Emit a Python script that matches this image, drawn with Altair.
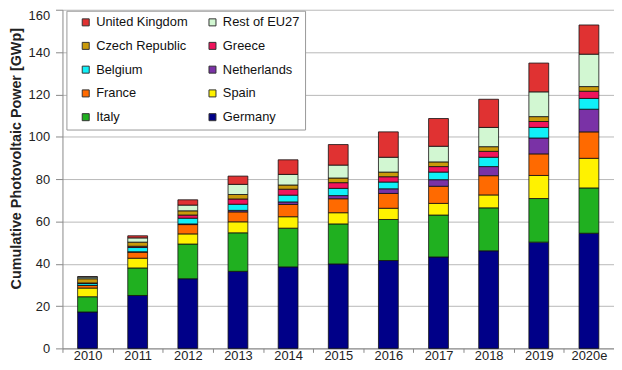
import altair as alt
import pandas as pd

years = ["2010", "2011", "2012", "2013", "2014", "2015", "2016", "2017", "2018", "2019", "2020e"]

germany = [17.2, 25.0, 32.9, 36.4, 38.5, 39.9, 41.5, 43.2, 46.1, 50.2, 54.4]
italy = [7.2, 13.0, 16.4, 18.2, 18.3, 18.9, 19.4, 19.8, 20.3, 20.6, 21.4]
spain = [4.1, 4.6, 4.8, 5.2, 5.4, 5.3, 5.3, 5.5, 6.1, 10.9, 14.0]
france = [1.2, 2.9, 4.4, 4.7, 5.8, 6.6, 7.0, 8.1, 9.1, 10.2, 12.5]
netherlands = [0.1, 0.15, 0.3, 0.7, 1.2, 1.5, 2.2, 3.1, 4.3, 7.5, 10.7]
belgium = [0.9, 2.0, 2.7, 2.9, 3.2, 3.4, 3.2, 3.6, 4.4, 5.0, 5.1]
greece = [0.2, 0.6, 1.5, 2.5, 2.8, 2.7, 2.5, 2.6, 2.8, 2.8, 3.4]
czech = [2.0, 1.95, 2.0, 2.1, 2.0, 2.2, 2.2, 2.2, 2.2, 2.3, 2.2]
rest_eu27 = [0.8, 2.0, 2.7, 4.8, 5.0, 6.1, 7.0, 7.4, 9.1, 11.7, 15.3]
uk = [0.2, 1.0, 2.5, 3.9, 6.9, 9.7, 12.0, 13.1, 13.3, 13.6, 13.8]

# stacking order (bottom to top)
stack_names = ["Germany", "Italy", "Spain", "France", "Netherlands", "Belgium",
               "Greece", "Czech Republic", "Rest of EU27", "United Kingdom"]
stack_values = [germany, italy, spain, france, netherlands, belgium,
                greece, czech, rest_eu27, uk]

# legend order (column-major: first column, then second column)
legend_order = ["United Kingdom", "Czech Republic", "Belgium", "France", "Italy",
                "Rest of EU27", "Greece", "Netherlands", "Spain", "Germany"]
legend_colors = ["#E03232", "#C99A0A", "#10F0F8", "#FF6A00", "#20B020",
                 "#D2F7D2", "#F0145C", "#7A32A6", "#FFF200", "#000088"]

rows = []
for i, (name, vals) in enumerate(zip(stack_names, stack_values)):
    for y, v in zip(years, vals):
        rows.append({"year": y, "country": name, "value": v, "stack": i})
df = pd.DataFrame(rows)

FONT = "Liberation Sans"
PAD = "\u2003" * 3

chart = alt.Chart(df).mark_bar(size=20, stroke="#111111", strokeWidth=0.8).encode(
    x=alt.X("year:N", sort=years,
            scale=alt.Scale(paddingInner=0, paddingOuter=0),
            axis=alt.Axis(title=None, labelAngle=0, tickBand="extent", ticks=True,
                          tickSize=4, tickColor="#888888", domainColor="#888888",
                          labelPadding=-3, labelFont=FONT, labelFontSize=13,
                          labelColor="#222222", grid=False)),
    y=alt.Y("value:Q", stack="zero",
            scale=alt.Scale(domain=[0, 160], nice=False),
            axis=alt.Axis(values=list(range(0, 161, 20)),
                          title="Cumulative Photovoltaic Power [GWp]",
                          titleFont=FONT, titleFontSize=14.5, titleFontWeight="bold",
                          titleColor="#222222", titleX=-46, titleY=150,
                          titleBaseline="middle", titleAlign="center",
                          labelFont=FONT, labelFontSize=13, labelColor="#222222",
                          labelPadding=6, tickSize=7, tickColor="#888888",
                          domainColor="#888888", gridColor="#B8B8B8",
                          labelBaseline={"condition": {"test": "datum.value >= 160", "value": "top"},
                                         "value": "middle"})),
    color=alt.Color("country:N",
                    scale=alt.Scale(domain=legend_order, range=legend_colors),
                    legend=alt.Legend(title=None, orient="none", legendX=4, legendY=1,
                                      columns=2, gridAlign="each", symbolType="square",
                                      symbolSize=50, symbolStrokeColor="#333333",
                                      symbolStrokeWidth=1, symbolOffset=8,
                                      labelFont=FONT, labelFontSize=13,
                                      labelColor="#111111", labelOffset=4,
                                      labelExpr="datum.label == 'Netherlands' ? datum.label + '" + PAD + "' : datum.label",
                                      rowPadding=10, columnPadding=10,
                                      padding=5, strokeColor="#999999",
                                      fillColor="white")),
    order=alt.Order("stack:Q", sort="ascending"),
).properties(
    width=557, height=342,
    autosize=alt.AutoSizeParams(type="none"),
    padding={"left": 55, "top": 0, "right": 0, "bottom": 12},
).configure_view(stroke=None)

chart.save("out.html", embed_options={"renderer": "svg", "actions": False})
